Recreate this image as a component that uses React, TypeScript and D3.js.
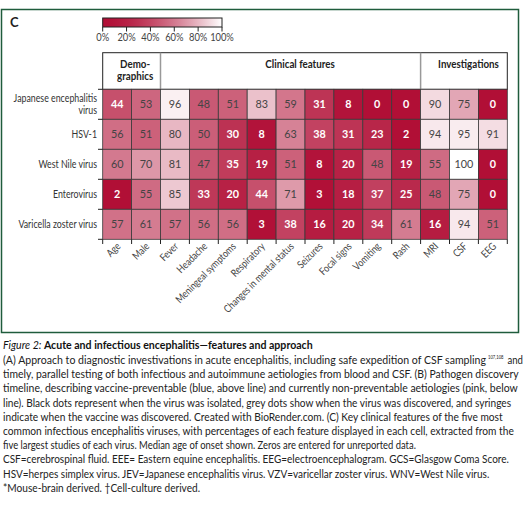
import React, { useLayoutEffect, useRef, useState } from "react";
import * as d3 from "d3";

const viruses = [
  ["Japanese encephalitis", "virus"],
  ["HSV-1"],
  ["West Nile virus"],
  ["Enterovirus"],
  ["Varicella zoster virus"],
];
const features = [
  "Age", "Male", "Fever", "Headache", "Meningeal symptoms", "Respiratory",
  "Changes in mental status", "Seizures", "Focal signs", "Vomiting", "Rash",
  "MRI", "CSF", "EEG",
];
const groups = [
  { label: ["Demo-", "graphics"], from: 0, to: 2 },
  { label: ["Clinical features"], from: 2, to: 11 },
  { label: ["Investigations"], from: 11, to: 14 },
];
const jevValues = [44, 53, 96, 48, 51, 83, 59, 31, 8, 0, 0, 90, 75, 0];
const hsvValues = [56, 51, 80, 50, 30, 8, 63, 38, 31, 23, 2, 94, 95, 91];
const wnvValues = [60, 70, 81, 47, 35, 19, 51, 8, 20, 48, 19, 55, 100, 0];
const entValues = [2, 55, 85, 33, 20, 44, 71, 3, 18, 37, 25, 48, 75, 0];
const vzvValues = [57, 61, 57, 56, 56, 3, 38, 16, 20, 34, 61, 16, 94, 51];
const values = [jevValues, hsvValues, wnvValues, entValues, vzvValues];
const legendTicks = [0, 20, 40, 60, 80, 100];

const captionTitle = "Acute and infectious encephalitis—features and approach";
const captionLines = [
  "(A) Approach to diagnostic investivations in acute encephalitis, including safe expedition of CSF sampling",
  "timely, parallel testing of both infectious and autoimmune aetiologies from blood and CSF. (B) Pathogen discovery",
  "timeline, describing vaccine-preventable (blue, above line) and currently non-preventable aetiologies (pink, below",
  "line). Black dots represent when the virus was isolated, grey dots show when the virus was discovered, and syringes",
  "indicate when the vaccine was discovered. Created with BioRender.com. (C) Key clinical features of the five most",
  "common infectious encephalitis viruses, with percentages of each feature displayed in each cell, extracted from the",
  "five largest studies of each virus. Median age of onset shown. Zeros are entered for unreported data.",
  "CSF=cerebrospinal fluid. EEE= Eastern equine encephalitis. EEG=electroencephalogram. GCS=Glasgow Coma Score.",
  "HSV=herpes simplex virus. JEV=Japanese encephalitis virus. VZV=varicellar zoster virus. WNV=West Nile virus.",
  "*Mouse-brain derived. †Cell-culture derived.",
];
const captionRef = "107,108";
// right edge (px) reached by each caption line in the figure
const captionEnds = [486, 519, 518, 511, 503, 514, 416, 509, 489, 200];

const FONT = "Lato, 'Open Sans', sans-serif";
const K = 0.85; // horizontal condensing of the typeface
const interp = d3.interpolateRgb("#b10f36", "#ffffff");
const color = (v: number) => interp(Math.pow(Math.max(0, Math.min(100, v)) / 100, 1.6));

function CText(props: {
  x: number; y: number; size: number; anchor?: string; weight?: number; fill?: string;
  rotate?: number; k?: number; children: React.ReactNode;
}) {
  const { x, y, size, anchor = "start", weight = 400, fill = "#333", rotate = 0, k = K, children } = props;
  return (
    <text transform={`translate(${x},${y}) rotate(${rotate}) scale(${k},1)`} fontSize={size}
      textAnchor={anchor} fontWeight={weight} fill={fill}>
      {children}
    </text>
  );
}

export default function App() {
  const x0 = 102.7, x1 = 507.3, y0 = 89.3, y1 = 239.3;
  const x = d3.scaleBand<number>().domain(d3.range(features.length)).range([x0, x1]).padding(0);
  const y = d3.scaleBand<number>().domain(d3.range(viruses.length)).range([y0, y1]).padding(0);
  const lx = d3.scaleLinear().domain([0, 100]).range([102.7, 222]);
  const gradStops = d3.range(0, 101, 5);
  const bw = x.bandwidth(), bh = y.bandwidth();
  const headerShift = [3.5, 9.5, 4.5];

  // caption: fit each line to the width it takes in the figure
  const capRefs = useRef<(SVGTextElement | null)[]>([]);
  const titleRef = useRef<SVGTextElement | null>(null);
  const [capScale, setCapScale] = useState<number[]>(captionLines.map(() => 0.85));
  const [titleScale, setTitleScale] = useState(0.85);
  useLayoutEffect(() => {
    const s = captionLines.map((_, i) => {
      const el = capRefs.current[i];
      const w = el ? el.getComputedTextLength() : 0;
      return w > 0 ? (captionEnds[i] - 3) / w : 0.85;
    });
    setCapScale(s);
    if (titleRef.current) {
      const w = titleRef.current.getComputedTextLength();
      if (w > 0) setTitleScale(310 / w);
    }
  }, []);

  return (
    <svg width={532} height={506} style={{ position: "absolute", left: 0, top: 0, background: "#fff" }} fontFamily={FONT}>
      <defs>
        <linearGradient id="lg" x1="0" x2="1" y1="0" y2="0">
          {gradStops.map((s) => (
            <stop key={s} offset={`${s}%`} stopColor={color(s)} />
          ))}
        </linearGradient>
      </defs>
      <rect x={1.5} y={9.5} width={517} height={323} fill="none" stroke="#1f5c3c" strokeWidth={1.5} />
      <CText x={10} y={27} size={13} weight={700} fill="#222" k={1}>C</CText>

      {/* legend */}
      <rect x={lx(0)} y={18} width={lx(100) - lx(0)} height={9} fill="url(#lg)" stroke="#222" strokeWidth={1} />
      {legendTicks.map((t) => (
        <g key={t}>
          <line x1={lx(t)} x2={lx(t)} y1={27} y2={31.5} stroke="#222" strokeWidth={1} />
          <CText x={lx(t)} y={41} size={11} anchor="middle" fill="#444">{`${t}%`}</CText>
        </g>
      ))}

      {/* header */}
      <rect x={x0} y={52.7} width={x1 - x0} height={y0 - 52.7} fill="#fff" stroke="#222" strokeWidth={1} />
      {groups.map((g, i) => {
        const gx0 = x(g.from)!, gx1 = x(g.to - 1)! + bw;
        const cx = (gx0 + gx1) / 2 + headerShift[i];
        return (
          <g key={i}>
            {i > 0 && <line x1={gx0} x2={gx0} y1={52.7} y2={y0} stroke="#999" strokeWidth={1.5} />}
            {g.label.map((l, j) => (
              <CText key={j} x={cx} y={67.5 + j * 12} size={11.5} weight={700} anchor="middle" fill="#222">{l}</CText>
            ))}
          </g>
        );
      })}

      {/* cells */}
      {values.map((row, r) =>
        row.map((v, c) => (
          <g key={`${r}-${c}`}>
            <rect x={x(c)} y={y(r)} width={bw} height={bh} fill={color(v)} stroke="#3a3a3a" strokeWidth={0.8} />
            <CText x={x(c)! + bw / 2} y={y(r)! + bh / 2 + 4} size={12} anchor="middle" k={0.9}
              fill={v < 45 ? "#ffffff" : "#444"} weight={v < 45 ? 700 : 400}>{v}</CText>
          </g>
        ))
      )}

      {/* left axis ticks + labels */}
      {d3.range(viruses.length + 1).map((i) => (
        <line key={i} x1={98} x2={x0} y1={y0 + i * bh} y2={y0 + i * bh} stroke="#222" strokeWidth={1} />
      ))}
      {viruses.map((lines, r) => {
        const cy = y(r)! + bh / 2;
        const start = cy - ((lines.length - 1) * 12) / 2 + 4;
        return lines.map((l, j) => (
          <CText key={`${r}-${j}`} x={97} y={start + j * 12} size={11} k={0.8} anchor="end" fill="#333">{l}</CText>
        ));
      })}

      {/* bottom ticks + labels */}
      {d3.range(features.length + 1).map((i) => (
        <line key={i} x1={x0 + i * bw} x2={x0 + i * bw} y1={y1} y2={244} stroke="#222" strokeWidth={1} />
      ))}
      {features.map((f, c) => (
        <CText key={f} x={x(c)! + bw / 2 + 4} y={247} rotate={-45} size={10.5} k={0.82} anchor="end" fill="#444">{f}</CText>
      ))}

      {/* caption */}
      <text ref={titleRef} transform={`translate(3,349) scale(${titleScale},1)`} fontSize={12} fill="#111" fontWeight={700}>
        <tspan fontStyle="italic" fontWeight={400}>Figure 2: </tspan>
        <tspan>{captionTitle}</tspan>
      </text>
      {captionLines.map((l, i) => (
        <text key={i} ref={(el) => { capRefs.current[i] = el; }}
          transform={`translate(3,${364 + i * 14.2}) scale(${capScale[i]},1)`} fontSize={12} fill="#222">
          {l}
        </text>
      ))}
      <text transform="translate(488,359) scale(0.7,1)" fontSize={6} fill="#222">{captionRef}</text>
      <text transform="translate(507.5,364) scale(0.8,1)" fontSize={12} fill="#222">and</text>
    </svg>
  );
}
